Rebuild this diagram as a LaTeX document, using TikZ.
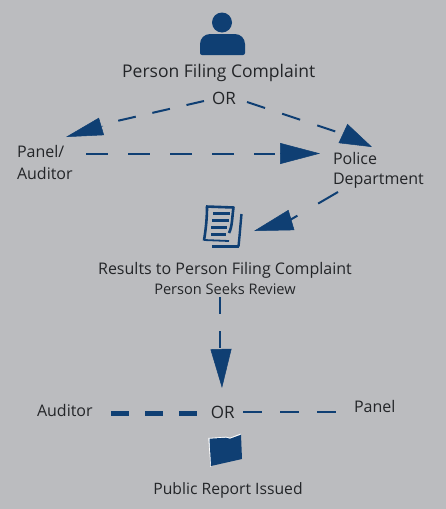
\documentclass[tikz,border=0pt]{standalone}
\usepackage{fontspec}
\setmainfont{Open Sans}
\usetikzlibrary{arrows.meta}
\definecolor{bgc}{HTML}{BBBCBF}
\definecolor{navy}{HTML}{0F3F73}
\definecolor{ink}{HTML}{232528}
\tikzset{
  lab/.style={text=ink,font=\fontsize{#1}{#1}\selectfont,inner sep=0pt,outer sep=0pt},
  dashline/.style={draw=navy,line width=2pt},
  headseg/.style={draw=navy,line width=0.5pt},
  icon/.style={fill=navy,draw=none},
}
\begin{document}
\begin{tikzpicture}[x=1pt,y=-1pt]
\fill[bgc] (0,0) rectangle (446,509);
\useasboundingbox (0,0) rectangle (446,509);
% person icon
\fill[icon] (222,22.5) circle (10);
\fill[icon] (222,55) [rounded corners=2pt] -- (200,55) [rounded corners=10pt] -- (200,34) -- (245,34) [rounded corners=2pt] -- (245,55) [sharp corners] -- cycle;
% texts
\node[lab=17.5,anchor=base] (person) at (218.7,77) {Person Filing Complaint};
\node[lab=17,anchor=base] (or1) at (224,104) {OR};
\node[lab=16,anchor=base west] (panelaud1) at (17,157.5) {Panel/};
\node[lab=16,anchor=base west] (panelaud2) at (17,179.5) {Auditor};
\node[lab=16,anchor=base west] (police1) at (333,164.5) {Police};
\node[lab=16,anchor=base west] (police2) at (333,184.5) {Department};
\node[lab=16,anchor=base] (results) at (225,274) {Results to Person Filing Complaint};
\node[lab=14.6,anchor=base] (seeks) at (225,294) {Person Seeks Review};
\node[lab=16,anchor=base west] (auditor) at (37,416) {Auditor};
\node[lab=17,anchor=base] (or2) at (222.7,418) {OR};
\node[lab=16,anchor=base west] (panel) at (354,412) {Panel};
\node[lab=15.7,anchor=base] (public) at (228,494) {Public Report Issued};
% connector end coordinates
\coordinate (a1) at (204,101); \coordinate (a2) at (117,121);
\coordinate (a3) at (103,126); \coordinate (a4) at (66,137);
\coordinate (b1) at (247,102); \coordinate (b2) at (337,132);
\coordinate (b3) at (343,133.5); \coordinate (b4) at (372,147);
\coordinate (c1) at (86,154); \coordinate (c2) at (275,154);
\coordinate (c3) at (280,153.5); \coordinate (c4) at (320,153.5);
\coordinate (d1) at (338,192); \coordinate (d2) at (290,220);
\coordinate (d3) at (291.5,220); \coordinate (d4) at (254,231);
\coordinate (e1) at (220,297); \coordinate (e2) at (220,350);
\coordinate (e3) at (221,349); \coordinate (e4) at (222,388);
\coordinate (f1) at (111,413); \coordinate (f2) at (197,413);
\coordinate (g1) at (243,412); \coordinate (g2) at (336,412);
% connectors
\draw[dashline,dash pattern=on 18pt off 17pt] (a1) -- (a2);
\draw[headseg,-{Triangle[length=37pt,width=18pt,fill=navy]}] (a3) -- (a4);
\draw[dashline,dash pattern=on 19pt off 18pt] (b1) -- (b2);
\draw[headseg,-{Triangle[length=32pt,width=21pt,fill=navy]}] (b3) -- (b4);
\draw[dashline,dash pattern=on 22pt off 20pt] (c1) -- (c2);
\draw[headseg,-{Triangle[length=40pt,width=21pt,fill=navy]}] (c3) -- (c4);
\draw[dashline,dash pattern=on 23pt off 24pt] (d1) -- (d2);
\draw[headseg,-{Triangle[length=39pt,width=21pt,fill=navy]}] (d3) -- (d4);
\draw[dashline,dash pattern=on 17pt off 17pt] (e1) -- (e2);
\draw[headseg,-{Triangle[length=39pt,width=21pt,fill=navy]}] (e3) -- (e4);
\draw[draw=navy,line width=5pt,dash pattern=on 18pt off 16pt] (f1) -- (f2);
\draw[dashline,dash pattern=on 19pt off 18pt] (g1) -- (g2);
% document icon
\draw[navy,line width=2.6pt,line join=round] (206,206.5) -- (233.5,207.5) .. controls (232,217) and (232.5,226) .. (229,233);
\draw[navy,line width=2.6pt] (207,206.5) .. controls (207,218) and (206,228) .. (204,240.5);
\draw[navy,line width=1.8pt] (204,240) -- (229,241);
\draw[navy,line width=2.4pt] (241.5,214) .. controls (240.5,224) and (240,232) .. (238.5,246.5);
\draw[navy,line width=2.4pt] (212,246.5) -- (239,246.5);
\draw[navy,line width=2.2pt] (213,213.5) -- (230,213.5);
\draw[navy,line width=2.2pt] (212,220.5) -- (229,220.5);
\draw[navy,line width=2.2pt] (211,227.5) -- (227,227.5);
\draw[navy,line width=2.2pt] (211,234.5) -- (226,234.5);
% folder icon
\path[fill=white] (208.3,438) -- (226,436.7) -- (230,437.7) -- (240.5,433.7) -- (241,436) -- (210.5,467) -- cycle;
\fill[icon] (209.5,438.7) -- (226,437.7) -- (230,438.7) -- (241,434.7) -- (242,459) -- (211,466) -- cycle;
\end{tikzpicture}
\end{document}
